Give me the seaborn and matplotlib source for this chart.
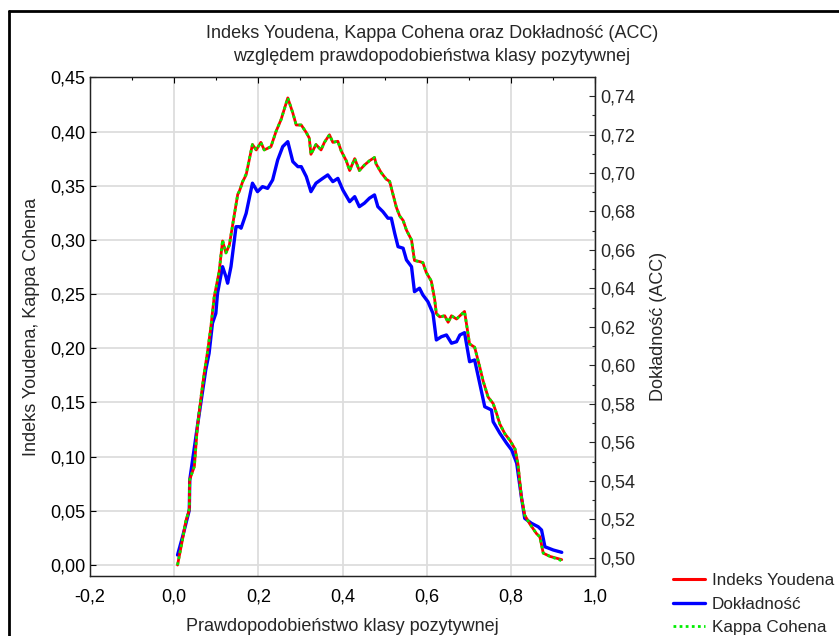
import matplotlib
matplotlib.use("Agg")
import matplotlib.pyplot as plt
from matplotlib.ticker import FuncFormatter, MultipleLocator
from matplotlib.lines import Line2D
import seaborn as sns

# Youden index and Cohen's kappa vs. threshold (left axis)
prob_yk = [0.008, 0.020, 0.028, 0.036, 0.037, 0.048, 0.055, 0.064, 0.071, 0.079,
           0.087, 0.095, 0.107, 0.115, 0.123, 0.131, 0.139, 0.151, 0.155, 0.163,
           0.171, 0.186, 0.195, 0.206, 0.214, 0.230, 0.242, 0.254, 0.270, 0.282,
           0.290, 0.302, 0.314, 0.321, 0.325, 0.337, 0.349, 0.357, 0.369, 0.377,
           0.389, 0.397, 0.409, 0.417, 0.429, 0.440, 0.452, 0.464, 0.476, 0.480,
           0.492, 0.504, 0.512, 0.520, 0.528, 0.536, 0.544, 0.552, 0.564, 0.571,
           0.583, 0.591, 0.599, 0.611, 0.619, 0.623, 0.631, 0.643, 0.651, 0.659,
           0.671, 0.679, 0.690, 0.702, 0.714, 0.726, 0.734, 0.746, 0.758, 0.766,
           0.774, 0.786, 0.798, 0.810, 0.817, 0.825, 0.833, 0.845, 0.861, 0.869,
           0.877, 0.893, 0.921]
youden = [0.000, 0.024, 0.041, 0.051, 0.079, 0.091, 0.127, 0.155, 0.176, 0.196,
          0.219, 0.247, 0.271, 0.299, 0.288, 0.295, 0.314, 0.342, 0.345, 0.354,
          0.360, 0.388, 0.383, 0.390, 0.383, 0.386, 0.400, 0.411, 0.431, 0.417,
          0.406, 0.406, 0.399, 0.394, 0.379, 0.388, 0.383, 0.390, 0.397, 0.390,
          0.391, 0.382, 0.373, 0.364, 0.375, 0.364, 0.369, 0.373, 0.376, 0.370,
          0.362, 0.356, 0.354, 0.342, 0.330, 0.322, 0.318, 0.309, 0.300, 0.281,
          0.280, 0.279, 0.270, 0.262, 0.245, 0.232, 0.229, 0.230, 0.224, 0.230,
          0.227, 0.230, 0.234, 0.204, 0.201, 0.183, 0.170, 0.155, 0.149, 0.140,
          0.130, 0.121, 0.115, 0.107, 0.093, 0.063, 0.046, 0.038, 0.029, 0.026,
          0.011, 0.008, 0.005]
kappa = [0.000, 0.024, 0.041, 0.052, 0.079, 0.091, 0.127, 0.156, 0.176, 0.196,
         0.219, 0.247, 0.271, 0.300, 0.288, 0.295, 0.314, 0.342, 0.345, 0.354,
         0.361, 0.388, 0.383, 0.390, 0.383, 0.386, 0.400, 0.411, 0.431, 0.417,
         0.406, 0.406, 0.399, 0.394, 0.379, 0.388, 0.383, 0.390, 0.397, 0.390,
         0.391, 0.382, 0.373, 0.364, 0.375, 0.364, 0.369, 0.373, 0.376, 0.370,
         0.362, 0.356, 0.354, 0.342, 0.330, 0.322, 0.318, 0.309, 0.300, 0.281,
         0.280, 0.279, 0.270, 0.262, 0.245, 0.232, 0.229, 0.230, 0.224, 0.230,
         0.227, 0.230, 0.234, 0.204, 0.201, 0.183, 0.170, 0.155, 0.149, 0.140,
         0.130, 0.121, 0.115, 0.107, 0.093, 0.063, 0.046, 0.038, 0.029, 0.026,
         0.011, 0.008, 0.004]

# Accuracy vs. threshold (right axis)
prob_acc = [0.008, 0.020, 0.036, 0.037, 0.055, 0.075, 0.083, 0.091, 0.099, 0.103,
            0.115, 0.123, 0.127, 0.135, 0.147, 0.155, 0.159, 0.171, 0.186, 0.198,
            0.210, 0.222, 0.234, 0.246, 0.258, 0.270, 0.282, 0.294, 0.302, 0.314,
            0.325, 0.337, 0.353, 0.365, 0.377, 0.389, 0.401, 0.417, 0.429, 0.440,
            0.452, 0.464, 0.476, 0.484, 0.496, 0.508, 0.516, 0.524, 0.532, 0.544,
            0.552, 0.564, 0.571, 0.583, 0.591, 0.603, 0.615, 0.623, 0.635, 0.647,
            0.659, 0.671, 0.679, 0.690, 0.702, 0.714, 0.726, 0.738, 0.754, 0.758,
            0.774, 0.790, 0.802, 0.814, 0.825, 0.833, 0.849, 0.865, 0.873, 0.881,
            0.901, 0.921]
accuracy = [0.5014, 0.5109, 0.5248, 0.5404, 0.5681, 0.5976, 0.6063, 0.6219, 0.6270, 0.6375,
            0.6513, 0.6461, 0.6427, 0.6513, 0.6721, 0.6721, 0.6713, 0.6790, 0.6947, 0.6903,
            0.6929, 0.6920, 0.6964, 0.7068, 0.7137, 0.7163, 0.7059, 0.7033, 0.7033, 0.6981,
            0.6903, 0.6947, 0.6972, 0.6990, 0.6955, 0.6972, 0.6911, 0.6851, 0.6877, 0.6825,
            0.6843, 0.6869, 0.6886, 0.6825, 0.6799, 0.6765, 0.6765, 0.6687, 0.6617, 0.6609,
            0.6548, 0.6513, 0.6383, 0.6401, 0.6366, 0.6331, 0.6270, 0.6132, 0.6149, 0.6158,
            0.6115, 0.6123, 0.6158, 0.6170, 0.6019, 0.6028, 0.5907, 0.5785, 0.5768, 0.5707,
            0.5647, 0.5595, 0.5560, 0.5491, 0.5317, 0.5205, 0.5179, 0.5161, 0.5144, 0.5057,
            0.5040, 0.5028]

series_names = ["Indeks Youdena", "Dokładność", "Kappa Cohena"]
title_text = "Indeks Youdena, Kappa Cohena oraz Dokładność (ACC)\nwzględem prawdopodobieństwa klasy pozytywnej"

sns.set_style("white")
plt.rcParams["font.family"] = ["Liberation Sans", "DejaVu Sans"]
plt.rcParams["axes.unicode_minus"] = False
FS = 13
RED, BLUE, GREEN = "#ff0000", "#0000ff", "#00ee00"
DOTS = (0, (1, 1.2))

fig = plt.figure(figsize=(8.39, 6.36), dpi=100)
pos = [90 / 839, 60 / 636, 505 / 839, 499 / 636]

# base axes: grid, x axis and left scale
ax = fig.add_axes(pos)
# right scale for accuracy
ax2 = ax.twinx()
# transparent overlay sharing the left scale, keeps dotted kappa above accuracy
ax3 = fig.add_axes(pos, sharex=ax, sharey=ax)
ax3.set_axis_off()
ax3.patch.set_visible(False)
ax.set_zorder(0)
ax2.set_zorder(1)
ax3.set_zorder(2)

sns.lineplot(x=prob_acc, y=accuracy, ax=ax2, color=BLUE, linewidth=2.4,
             estimator=None, sort=False, legend=False)
sns.lineplot(x=prob_yk, y=youden, ax=ax3, color=RED, linewidth=2.0,
             estimator=None, sort=False, legend=False)
sns.lineplot(x=prob_yk, y=kappa, ax=ax3, color=GREEN, linewidth=2.0,
             linestyle=DOTS, estimator=None, sort=False, legend=False)

ax.set_xlim(-0.2, 1.0)
ax.set_ylim(-0.0101, 0.4503)
ax2.set_ylim(0.4905, 0.7499)

ax.xaxis.set_major_locator(MultipleLocator(0.2))
ax.xaxis.set_minor_locator(MultipleLocator(0.1))
ax.yaxis.set_major_locator(MultipleLocator(0.05))
ax2.yaxis.set_major_locator(MultipleLocator(0.02))
ax2.yaxis.set_minor_locator(MultipleLocator(0.01))

ax.xaxis.set_major_formatter(FuncFormatter(lambda v, p: f"{v:.1f}".replace(".", ",").replace("-0,0", "0,0")))
ax.yaxis.set_major_formatter(FuncFormatter(lambda v, p: f"{v:.2f}".replace(".", ",").replace("-0,00", "0,00")))
ax2.yaxis.set_major_formatter(FuncFormatter(lambda v, p: f"{v:.2f}".replace(".", ",")))

ax.grid(True, which="major", color="#dddddd", linewidth=1.3)
ax.set_axisbelow(True)

ax.tick_params(axis="both", which="both", direction="in", labelsize=FS, colors="black",
               top=True, length=4, width=0.8)
ax.tick_params(axis="both", which="minor", length=2)
ax2.tick_params(axis="y", which="both", direction="in", labelsize=FS, length=4, width=0.8)
ax2.tick_params(axis="y", which="minor", length=2)
ax.tick_params(axis="x", pad=9)

for a in (ax, ax2):
    for s in a.spines.values():
        s.set_color("#222222")
        s.set_linewidth(0.9)

ax.set_xlabel("Prawdopodobieństwo klasy pozytywnej", fontsize=FS, labelpad=9)
ax.set_ylabel("Indeks Youdena, Kappa Cohena", fontsize=FS, labelpad=7)
ax2.set_ylabel("Dokładność (ACC)", fontsize=FS, labelpad=11)

fig.text(432 / 839, 1 - 45 / 636, title_text, ha="center", va="center",
         fontsize=FS, linespacing=1.4)

# legend placed outside the plotting area, bottom right
leg_handles = [Line2D([], [], color=RED, lw=2.2),
               Line2D([], [], color=BLUE, lw=2.4),
               Line2D([], [], color=GREEN, lw=2.0, linestyle=DOTS)]
fig.legend(leg_handles, series_names, loc="upper left",
           bbox_to_anchor=(673 / 839, 1 - 573 / 636), frameon=False, fontsize=12.3,
           handlelength=1.85, handletextpad=0.42, labelspacing=0.5, borderaxespad=0,
           borderpad=0)

# outer frame of the figure panel
fig.add_artist(Line2D([9 / 839, 9 / 839], [0, 1 - 11 / 636], transform=fig.transFigure,
                      color="black", linewidth=2))
fig.add_artist(Line2D([9 / 839, 1], [1 - 11 / 636, 1 - 11 / 636], transform=fig.transFigure,
                      color="black", linewidth=2))

fig.savefig("out.png", dpi=100)
